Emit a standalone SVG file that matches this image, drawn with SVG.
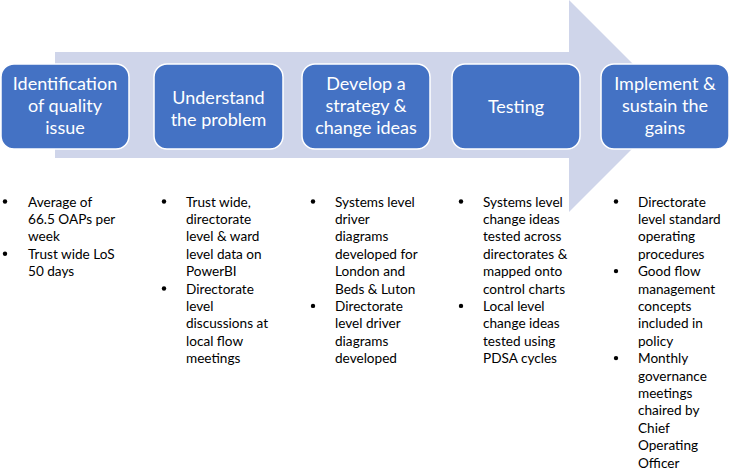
<svg xmlns="http://www.w3.org/2000/svg" width="731" height="470" viewBox="0 0 731 470">
<style>
.box{fill:#4472C4;stroke:#FFFFFF;stroke-width:1.5}
.bt{font-family:Lato,"Open Sans","Liberation Sans",sans-serif;font-size:18px;fill:#FFFFFF;text-anchor:middle}
.tx{font-family:Lato,"Open Sans","Liberation Sans",sans-serif;font-size:13.6px;fill:#000000}
.dot{fill:#000000}
</style>
<rect width="731" height="470" fill="#FFFFFF"/>
<g id="arrow">
<polygon points="55,52 569,52 569,0 675,106 569,212 569,158 55,158" fill="#CFD5EA"/>
</g>
<g id="connectors"></g>
<g id="node1">
<rect class="box" x="1" y="64" width="128" height="85" rx="13"/>
<text class="bt" x="65" y="90">Identification</text>
<text class="bt" x="65" y="112">of quality</text>
<text class="bt" x="65" y="133.5">issue</text>
</g>
<g id="node2">
<rect class="box" x="154" y="64" width="129" height="85" rx="13"/>
<text class="bt" x="218.5" y="104">Understand</text>
<text class="bt" x="218.5" y="125.5">the problem</text>
</g>
<g id="node3">
<rect class="box" x="302" y="64" width="128" height="85" rx="13"/>
<text class="bt" x="366" y="90">Develop a</text>
<text class="bt" x="366" y="112">strategy &amp;</text>
<text class="bt" x="366" y="133.5">change ideas</text>
</g>
<g id="node4">
<rect class="box" x="452" y="64" width="128" height="85" rx="13"/>
<text class="bt" x="516" y="113">Testing</text>
</g>
<g id="node5">
<rect class="box" x="601" y="64" width="128" height="85" rx="13"/>
<text class="bt" x="665" y="90">Implement &amp;</text>
<text class="bt" x="665" y="112">sustain the</text>
<text class="bt" x="665" y="133.5">gains</text>
</g>
<g id="list1">
<circle class="dot" cx="5" cy="201.5" r="2.2"/>
<circle class="dot" cx="5" cy="253.7" r="2.2"/>
<text class="tx" x="28" y="206.5">Average of</text>
<text class="tx" x="28" y="223.9">66.5 OAPs per</text>
<text class="tx" x="28" y="241.3">week</text>
<text class="tx" x="28" y="258.7">Trust wide LoS</text>
<text class="tx" x="28" y="276.1">50 days</text>
</g>
<g id="list2">
<circle class="dot" cx="164" cy="201.5" r="2.2"/>
<circle class="dot" cx="164" cy="288.5" r="2.2"/>
<text class="tx" x="186" y="206.5">Trust wide,</text>
<text class="tx" x="186" y="223.9">directorate</text>
<text class="tx" x="186" y="241.3">level &amp; ward</text>
<text class="tx" x="186" y="258.7">level data on</text>
<text class="tx" x="186" y="276.1">PowerBI</text>
<text class="tx" x="186" y="293.5">Directorate</text>
<text class="tx" x="186" y="310.9">level</text>
<text class="tx" x="186" y="328.3">discussions at</text>
<text class="tx" x="186" y="345.7">local flow</text>
<text class="tx" x="186" y="363.1">meetings</text>
</g>
<g id="list3">
<circle class="dot" cx="313" cy="201.5" r="2.2"/>
<circle class="dot" cx="313" cy="305.9" r="2.2"/>
<text class="tx" x="335" y="206.5">Systems level</text>
<text class="tx" x="335" y="223.9">driver</text>
<text class="tx" x="335" y="241.3">diagrams</text>
<text class="tx" x="335" y="258.7">developed for</text>
<text class="tx" x="335" y="276.1">London and</text>
<text class="tx" x="335" y="293.5">Beds &amp; Luton</text>
<text class="tx" x="335" y="310.9">Directorate</text>
<text class="tx" x="335" y="328.3">level driver</text>
<text class="tx" x="335" y="345.7">diagrams</text>
<text class="tx" x="335" y="363.1">developed</text>
</g>
<g id="list4">
<circle class="dot" cx="461" cy="201.5" r="2.2"/>
<circle class="dot" cx="461" cy="305.9" r="2.2"/>
<text class="tx" x="483" y="206.5">Systems level</text>
<text class="tx" x="483" y="223.9">change ideas</text>
<text class="tx" x="483" y="241.3">tested across</text>
<text class="tx" x="483" y="258.7">directorates &amp;</text>
<text class="tx" x="483" y="276.1">mapped onto</text>
<text class="tx" x="483" y="293.5">control charts</text>
<text class="tx" x="483" y="310.9">Local level</text>
<text class="tx" x="483" y="328.3">change ideas</text>
<text class="tx" x="483" y="345.7">tested using</text>
<text class="tx" x="483" y="363.1">PDSA cycles</text>
</g>
<g id="list5">
<circle class="dot" cx="616" cy="201.5" r="2.2"/>
<circle class="dot" cx="616" cy="271.1" r="2.2"/>
<circle class="dot" cx="616" cy="358.1" r="2.2"/>
<text class="tx" x="638" y="206.5">Directorate</text>
<text class="tx" x="638" y="223.9">level standard</text>
<text class="tx" x="638" y="241.3">operating</text>
<text class="tx" x="638" y="258.7">procedures</text>
<text class="tx" x="638" y="276.1">Good flow</text>
<text class="tx" x="638" y="293.5">management</text>
<text class="tx" x="638" y="310.9">concepts</text>
<text class="tx" x="638" y="328.3">included in</text>
<text class="tx" x="638" y="345.7">policy</text>
<text class="tx" x="638" y="363.1">Monthly</text>
<text class="tx" x="638" y="380.5">governance</text>
<text class="tx" x="638" y="397.9">meetings</text>
<text class="tx" x="638" y="415.3">chaired by</text>
<text class="tx" x="638" y="432.7">Chief</text>
<text class="tx" x="638" y="450.1">Operating</text>
<text class="tx" x="638" y="467.5">Officer</text>
</g>
</svg>
